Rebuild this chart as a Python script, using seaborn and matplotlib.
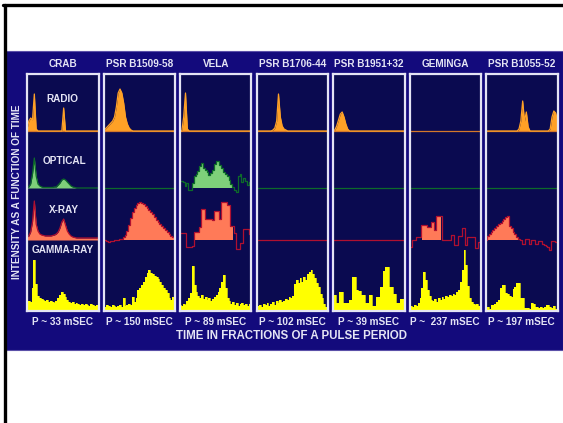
import numpy as np
import matplotlib
matplotlib.use('Agg')
import matplotlib.pyplot as plt
import seaborn as sb
from matplotlib.patches import Rectangle
from matplotlib.lines import Line2D

sb.set_style('white')
plt.rcParams['font.family'] = ['Liberation Sans', 'DejaVu Sans']

pulsars = ['CRAB', 'PSR B1509-58', 'VELA', 'PSR B1706-44',
           'PSR B1951+32', 'GEMINGA', 'PSR B1055-52']
periods = ['P ~ 33 mSEC', 'P ~ 150 mSEC', 'P ~ 89 mSEC', 'P ~ 102 mSEC',
           'P ~ 39 mSEC', 'P ~  237 mSEC', 'P ~ 197 mSEC']
bands = ['RADIO', 'OPTICAL', 'X-RAY', 'GAMMA-RAY']

# pulse profiles, 40 phase bins over one period (arbitrary intensity, None = no pulse)
crab_radio = [2, 10, 13, 11, 37, 2, 0, 0, 0, 0,
              0, 0, 0, 0, 0, 0, 0, 0, 0, 0,
              23, 0, 0, 0, 0, 0, 0, 0, 0, 0,
              0, 0, 0, 0, 0, 0, 0, 0, 0, 0]
crab_opt = [0, 1, 4, 14, 30, 12, 4, 2, 1, 0.5,
            0.5, 0.5, 0.5, 0.5, 0.5, 1, 1, 3, 5, 8,
            9, 8, 6, 4, 2, 1, 0.5, 0, 0, 0,
            0, 0, 0, 0, 0, 0, 0, 0, 0, 0]
crab_xray = [3, 4, 8, 18, 39, 16, 9, 6, 5, 4.5,
             4, 4, 4, 4, 4.5, 5, 6, 8, 12, 18,
             21, 15, 9, 6, 4, 3, 2.5, 2, 2, 2,
             2, 2, 2, 2, 2, 2, 2, 2, 2, 2]
crab_gamma = [6, 9, 8, 22, 50, 26, 14, 12, 11, 10,
              9, 10, 8, 9, 8, 7, 9, 12, 15, 18,
              16, 13, 10, 8, 7, 8, 6, 7, 6, 5,
              6, 5, 6, 5, 4, 6, 5, 4, 5, 4]

b1509_radio = [0, 2, 4, 6, 8, 10, 14, 24, 38, 42,
               38, 28, 14, 7, 3, 1, 0, 0, 0, 0,
               0, 0, 0, 0, 0, 0, 0, 0, 0, 0,
               0, 0, 0, 0, 0, 0, 0, 0, 0, 0]
b1509_opt = None
b1509_xray = [0, 0, -1, -2, -1.5, -1, -0.5, 0, 0, 0.5,
              1, 3, 5, 9, 15, 22, 28, 32, 35, 37,
              38, 37, 36, 34, 32, 30, 28, 26, 23, 20,
              18, 16, 14, 12, 10, 8, 6, 4, 3, 2]
b1509_gamma = [4, 3, 5, 4, 3, 5, 4, 3, 4, 5,
               3, 12, 4, 5, 6, 5, 13, 8, 12, 20,
               22, 25, 28, 33, 37, 40, 37, 36, 34, 33,
               31, 28, 25, 22, 20, 17, 12, 10, 13, 5]

vela_radio = [0, 0, 14, 38, 2, 0, 0, 0, 0, 0,
              0, 0, 0, 0, 0, 0, 0, 0, 0, 0,
              0, 0, 0, 0, 0, 0, 0, 0, 0, 0,
              0, 0, 0, 0, 0, 0, 0, 0, 0, 0]
vela_opt = [7, 7, 6, 2, 5, -2, -2, 5, 12, 14,
            17, 22, 25, 20, 18, 16, 13, 15, 18, 24,
            27, 27, 23, 20, 16, 14, 12, 8, 4, 1,
            -2, -4, 12, 14, 6, 10, 7, 3, 6, 8]
vela_xray = [7, 7, 7, 7, -7, -7, -7, -6, 8, 8,
             8, 13, 31, 31, 21, 21, 21, 21, 20, 29,
             29, 29, 21, 38, 38, 38, 35, 35, 14, 14,
             7, -9, -9, -3, -3, 11, 11, 11, 6, 6]
vela_gamma = [5, 4, 6, 5, 9, 12, 17, 44, 25, 18,
              14, 12, 15, 11, 13, 10, 12, 9, 11, 13,
              15, 18, 22, 28, 35, 22, 12, 9, 6, 8,
              5, 7, 4, 6, 7, 5, 6, 4, 6, 7]

b1706_radio = [0, 0, 0, 0, 0, 0, 0, 0, 0, 1,
               3, 10, 37, 14, 5, 2, 1, 0, 0, 0,
               0, 0, 0, 0, 0, 0, 0, 0, 0, 0,
               0, 0, 0, 0, 0, 0, 0, 0, 0, 0]
b1706_opt = None
b1706_xray = None
b1706_gamma = [3, 4, 5, 3, 6, 5, 7, 4, 6, 8,
               5, 9, 7, 10, 8, 9, 11, 10, 13, 12,
               14, 26, 30, 27, 32, 28, 33, 30, 36, 38,
               40, 36, 32, 27, 23, 16, 12, 6, 3, 2]

b1951_radio = [0, 1, 5, 11, 17, 19, 14, 7, 2, 0,
               0, 0, 0, 0, 0, 0, 0, 0, 0, 0,
               0, 0, 0, 0, 0, 0, 0, 0, 0, 0,
               0, 0, 0, 0, 0, 0, 0, 0, 0, 0]
b1951_opt = None
b1951_xray = None
b1951_gamma = [15, 15, 7, 7, 18, 18, 7, 7, 7, 10,
               10, 33, 33, 20, 19, 19, 15, 15, 7, 7,
               15, 15, 4, 4, 13, 13, 23, 23, 39, 43,
               43, 23, 23, 16, 16, 7, 7, 11, 11, 11]

geminga_radio = None
geminga_opt = None
geminga_xray = [-7, -7, 0, 0, 3, 3, 3, 15, 15, 15,
                13, 13, 18, 18, 10, 24, 24, 24, 0, 0,
                0, 0, 0, 5, 5, -5, -5, 4, 4, 12,
                12, -5, 3, 3, 3, 3, -8, -8, -2, -2]
geminga_gamma = [3, 4, 3, 5, 4, 7, 12, 22, 38, 30,
                 20, 14, 10, 9, 11, 8, 12, 10, 13, 11,
                 14, 13, 15, 14, 16, 15, 18, 20, 28, 40,
                 60, 45, 24, 12, 8, 6, 5, 6, 4, 5]

b1055_radio = [0, 0, 0, 0, 0, 0, 0, 0, 0, 0,
               0, 0, 0, 0, 0, 0, 0, 0, 2, 10,
               30, 10, 19, 4, 0, 0, 0, 0, 0, 0,
               0, 0, 0, 0, 0, 2, 14, 20, 18, 10]
b1055_opt = None
b1055_xray = [0, 4, 6, 8, 10, 12, 14, 16, 17, 19,
              21, 23, 24, 14, 12, 8, 6, 3, 1, 0,
              -4, -4, 1, 1, -4, 0, 0, -4, -4, -1,
              -1, -4, -5, -6, -7, -10, -1, -1, -2, -2]
b1055_gamma = [2, 3, 1, 5, 5, 6, 8, 10, 22, 25,
               25, 17, 16, 14, 13, 21, 23, 27, 27, 12,
               12, 2, 2, 2, 1, 7, 6, 3, 3, 2,
               3, 2, 3, 5, 5, 3, 2, 4, 1, 2]

radio = [crab_radio, b1509_radio, vela_radio, b1706_radio, b1951_radio, geminga_radio, b1055_radio]
optical = [crab_opt, b1509_opt, vela_opt, b1706_opt, b1951_opt, geminga_opt, b1055_opt]
xray = [crab_xray, b1509_xray, vela_xray, b1706_xray, b1951_xray, geminga_xray, b1055_xray]
gamma = [crab_gamma, b1509_gamma, vela_gamma, b1706_gamma, b1951_gamma, geminga_gamma, b1055_gamma]

# phase windows where the pulse is shaded (otherwise shade wherever above baseline)
on_pulse = {('VELA', 'OPTICAL'): (0.17, 0.75), ('VELA', 'X-RAY'): (0.19, 0.76),
            ('GEMINGA', 'X-RAY'): (0.17, 0.44), ('PSR B1055-52', 'X-RAY'): (0.0, 0.48)}
smooth = {('CRAB', 'OPTICAL'), ('CRAB', 'X-RAY')}

W, H = 563, 423
BANNER = '#130a7c'
PANEL = '#0a0a50'
TEXT = '#e4e4f4'

# band style: baseline height in panel (px), fill colour, line colour
style = {'RADIO': (180, '#ffa126', '#d4782a'),
         'OPTICAL': (123, '#7ed07a', '#0d6a2a'),
         'X-RAY': (71, '#ff7a58', '#b01030'),
         'GAMMA-RAY': (1, '#ffff00', '#ffff00')}

phase = np.linspace(0, 1, 40)


def fx(x):
    return x / W


def fy(y):
    return 1 - y / H


def draw_band(ax, name, band, vals):
    base, fill, line = style[band]
    if vals is None:
        ax.axhline(base, color=line, lw=0.9)
        return
    y = base + np.asarray(vals, float)
    steps = band != 'RADIO' and (name, band) not in smooth
    win = on_pulse.get((name, band))
    if win is None:
        mask = y >= base
    else:
        mask = (phase >= win[0]) & (phase <= win[1])
    if band == 'RADIO':
        ax.axhline(base, color=line, lw=0.9)
        line = fill
    ax.fill_between(phase, base, y, where=mask, step='mid' if steps else None,
                    color=fill, lw=0, interpolate=not steps)
    sb.lineplot(x=phase, y=y, ax=ax, color=line, lw=0.9 if band != 'GAMMA-RAY' else 0.5,
                drawstyle='steps-mid' if steps else 'default')


fig = plt.figure(figsize=(W / 100, H / 100), dpi=100)
fig.patch.set_facecolor('white')

fig.add_artist(Rectangle((fx(6), fy(350)), 557 / W, 299 / H, transform=fig.transFigure,
                         facecolor=BANNER, edgecolor='#5b50a8', lw=0.8, zorder=-10))
fig.add_artist(Line2D([fx(3), 1], [fy(5.5), fy(5.5)], color='black', lw=2.4, zorder=-10))
fig.add_artist(Line2D([fx(4.5), fx(4.5)], [0, fy(5.5)], color='black', lw=2.4, zorder=-10))

for k, name in enumerate(pulsars):
    left = 27 + k * 76.5
    ax = fig.add_axes([fx(left), fy(311), 71.5 / W, 237 / H])
    ax.set_facecolor(PANEL)
    for b, curves in zip(bands, [radio, optical, xray, gamma]):
        draw_band(ax, name, b, curves[k])
    ax.set_xlim(0, 1)
    ax.set_ylim(0, 237)
    ax.set_xticks([])
    ax.set_yticks([])
    ax.set_xlabel('')
    ax.set_ylabel('')
    for s in ax.spines.values():
        s.set_visible(True)
        s.set_color('#e4e4f4')
        s.set_linewidth(1.6)
    cx = left + 35.75
    fig.text(fx(cx), fy(64), name, color=TEXT, fontsize=7.2, fontweight='bold',
             ha='center', va='center')
    fig.text(fx(cx), fy(322), periods[k], color=TEXT, fontsize=7.2, fontweight='bold',
             ha='center', va='center')

for b, (x, y) in zip(bands, [(62, 99), (64, 161), (64, 210), (63, 250)]):
    fig.text(fx(x), fy(y), b, color=TEXT, fontsize=7.2, fontweight='bold',
             ha='center', va='center')

fig.text(fx(17), fy(192), 'INTENSITY AS A FUNCTION OF TIME', color=TEXT, fontsize=7.2,
         fontweight='bold', rotation=90, ha='center', va='center')
fig.text(fx(292), fy(336), 'TIME IN FRACTIONS OF A PULSE PERIOD', color=TEXT, fontsize=8.3,
         fontweight='bold', ha='center', va='center')

fig.savefig('out.png', dpi=100, facecolor='white')
